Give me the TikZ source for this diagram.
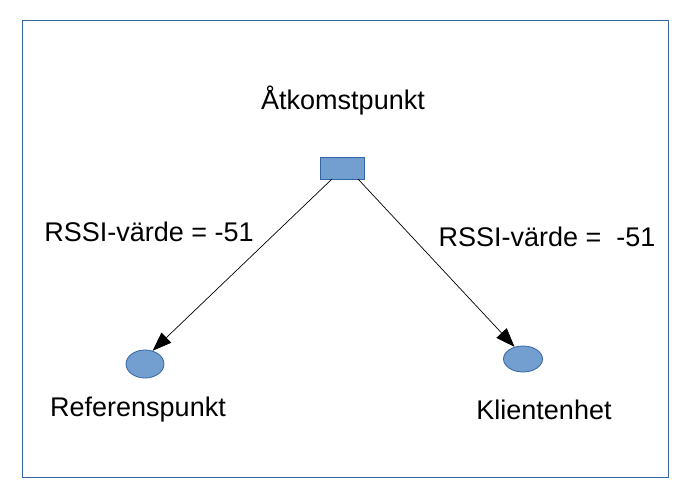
\documentclass[tikz,border=0pt]{standalone}
\usepackage{fontspec}
\setmainfont{Liberation Sans}
\usetikzlibrary{arrows.meta,shapes.geometric}
\begin{document}
\begin{tikzpicture}[x=1pt,y=-1pt,
  lbl/.style={font=\fontsize{27}{32}\selectfont, inner sep=0pt},
  shapefill/.style={fill=blue1, draw=blue2, line width=0.8pt},
  conn/.style={-{Triangle[length=19pt,width=14pt]}, line width=0.7pt}]
\definecolor{blue1}{HTML}{729FCF}
\definecolor{blue2}{HTML}{3465A4}
\definecolor{frame}{HTML}{3465A4}
\useasboundingbox (0,0) rectangle (694,498);
\draw[frame, line width=1pt] (22,20) rectangle (668,477);
\node[shapefill, minimum width=44pt, minimum height=22pt, inner sep=0pt] (ap) at (342,168) {};
\node[shapefill, ellipse, minimum width=38pt, minimum height=28pt, inner sep=0pt] (ref) at (145,364) {};
\node[shapefill, ellipse, minimum width=39pt, minimum height=26pt, inner sep=0pt] (kl) at (523,359) {};
\node[lbl] (t1) at (343,101) {Åtkomstpunkt};
\node[lbl] (t2) at (149,232) {RSSI-värde = -51};
\node[lbl] (t3) at (547,237) {RSSI-värde = \ -51};
\node[lbl] (t4) at (138,410) {Referenspunkt};
\node[lbl] (t5) at (544,410) {Klientenhet};
\coordinate (a1) at (332,179);
\coordinate (a2) at (358,179);
\draw[conn] (a1) -- (ref.60);
\draw[conn] (a2) -- (kl.125);
\end{tikzpicture}
\end{document}
